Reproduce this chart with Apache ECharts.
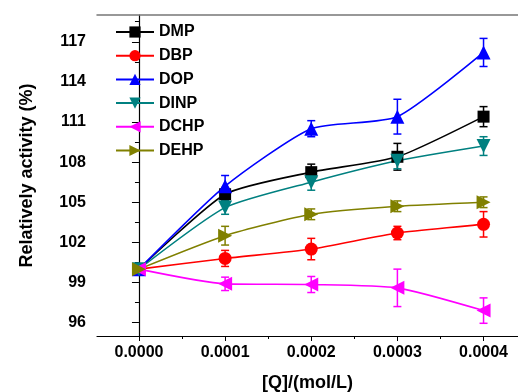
<!DOCTYPE html>
<html><head><meta charset="utf-8">
<script src="https://cdn.jsdelivr.net/npm/echarts@6/dist/echarts.min.js"></script>
<style>html,body{margin:0;padding:0;background:#fff}#c{width:518px;height:392px}</style>
</head><body><div id="c"></div>
<script>
const xValues = [0, 0.0001, 0.0002, 0.0003, 0.0004];
const seriesNames = ['DMP','DBP','DOP','DINP','DCHP','DEHP'];
const DMP  = [100, 105.6, 107.25, 108.4, 111.4];
const DBP  = [100, 100.8, 101.5, 102.7, 103.35];
const DOP  = [100, 106.2, 110.5, 111.4, 116.2];
const DINP = [100, 104.6, 106.5, 108.1, 109.2];
const DCHP = [100, 98.9, 98.85, 98.6, 96.9];
const DEHP = [100, 102.5, 104.1, 104.7, 105.0];
const DMP_err  = [0.2, 0.5, 0.6, 1.0, 0.75];
const DBP_err  = [0.2, 0.6, 0.8, 0.5, 0.95];
const DOP_err  = [0.2, 0.8, 0.6, 1.3, 1.05];
const DINP_err = [0.2, 0.5, 0.6, 0.6, 0.7];
const DCHP_err = [0.2, 0.5, 0.6, 1.4, 0.95];
const DEHP_err = [0.2, 0.7, 0.4, 0.4, 0.4];
const yTickLabels = [96, 99, 102, 105, 108, 111, 114, 117];
const yMinorTicks = [97.5, 100.5, 103.5, 106.5, 109.5, 112.5, 115.5, 118.5];
const xTickLabels = [0, 0.0001, 0.0002, 0.0003, 0.0004];
const xMinorTicks = [0.00005, 0.00015, 0.00025, 0.00035];

const values = {DMP, DBP, DOP, DINP, DCHP, DEHP};
const errs = {DMP: DMP_err, DBP: DBP_err, DOP: DOP_err, DINP: DINP_err, DCHP: DCHP_err, DEHP: DEHP_err};
const colors = {DMP:'#000000', DBP:'#ff0000', DOP:'#0000ff', DINP:'#008080', DCHP:'#ff00ff', DEHP:'#808000'};
const symbols = {DMP:['rect',0,12], DBP:['circle',0,13], DOP:['triangle',0,14], DINP:['triangle',180,14], DCHP:['triangle',90,14], DEHP:['triangle',-90,14]};

const font = 'Liberation Sans, Arial, sans-serif';
const series = [];
seriesNames.forEach(n => {
  series.push({
    type: 'custom', name: n + '_err', xAxisIndex: 0, yAxisIndex: 0, z: 2, silent: true,
    data: xValues.map((x, i) => [x, values[n][i], errs[n][i]]),
    renderItem: function (params, api) {
      const x = api.value(0), y = api.value(1), e = api.value(2);
      const top = api.coord([x, y + e]), bot = api.coord([x, y - e]);
      const w = 4;
      const st = {stroke: colors[n], lineWidth: 1.5, fill: null};
      return {type: 'group', children: [
        {type: 'line', shape: {x1: top[0], y1: top[1], x2: bot[0], y2: bot[1]}, style: st},
        {type: 'line', shape: {x1: top[0]-w, y1: top[1], x2: top[0]+w, y2: top[1]}, style: st},
        {type: 'line', shape: {x1: bot[0]-w, y1: bot[1], x2: bot[0]+w, y2: bot[1]}, style: st}
      ]};
    }
  });
});
seriesNames.forEach(n => {
  series.push({
    type: 'line', name: n, xAxisIndex: 0, yAxisIndex: 0, z: 3,
    data: xValues.map((x, i) => [x, values[n][i]]),
    smooth: 0.2,
    symbol: symbols[n][0], symbolRotate: symbols[n][1], symbolSize: symbols[n][2],
    lineStyle: {color: colors[n], width: 1.6},
    itemStyle: {color: colors[n], borderWidth: 0},
    emphasis: {disabled: true}
  });
});

const xMin = -0.0000487, xMax = 0.00044;
const chart = echarts.init(document.getElementById('c'), null, {renderer: 'canvas'});
chart.setOption({
  animation: false,
  backgroundColor: '#fff',
  grid: {left: 97, top: 15, bottom: 56, right: 0, show: false, outerBoundsMode: 'none', containLabel: false},
  legend: {
    data: seriesNames, orient: 'vertical', left: 110, top: 19,
    itemWidth: 38, itemHeight: 14, itemGap: 7.7,
    textStyle: {fontFamily: font, fontWeight: 'bold', fontSize: 16, color: '#000'}
  },
  xAxis: [{
    type: 'value', min: xMin, max: xMax, position: 'bottom',
    name: '[Q]/(mol/L)', nameLocation: 'middle', nameGap: 38,
    nameTextStyle: {fontFamily: font, fontWeight: 'bold', fontSize: 18, color: '#000'},
    axisLine: {lineStyle: {color: '#000', width: 1.2}},
    axisTick: {customValues: xTickLabels, length: 5, lineStyle: {color: '#000'}},
    axisLabel: {customValues: xTickLabels, formatter: v => v.toFixed(4), margin: 9,
      fontFamily: font, fontWeight: 'bold', fontSize: 16, color: '#000'},
    splitLine: {show: false}
  }, {
    type: 'value', min: xMin, max: xMax, position: 'bottom',
    axisLine: {show: false},
    axisTick: {customValues: xMinorTicks, length: 3, lineStyle: {color: '#000'}},
    axisLabel: {show: false}, splitLine: {show: false}
  }, {
    type: 'value', min: xMin, max: xMax, position: 'top',
    axisLine: {lineStyle: {color: '#777', width: 1.5}},
    axisTick: {show: false}, axisLabel: {show: false}, splitLine: {show: false}
  }],
  yAxis: [{
    type: 'value', min: 95, max: 119, position: 'left',
    name: 'Relatively activity (%)', nameLocation: 'middle', nameGap: 61,
    nameTextStyle: {fontFamily: font, fontWeight: 'bold', fontSize: 18, color: '#000'},
    axisLine: {lineStyle: {color: '#000', width: 1.2}},
    axisTick: {customValues: yTickLabels, length: 7, lineStyle: {color: '#000'}},
    axisLabel: {customValues: yTickLabels, margin: 11,
      fontFamily: font, fontWeight: 'bold', fontSize: 16, color: '#000'},
    splitLine: {show: false}
  }, {
    type: 'value', min: 95, max: 119, position: 'left',
    axisLine: {show: false},
    axisTick: {customValues: yMinorTicks, length: 4, lineStyle: {color: '#000'}},
    axisLabel: {show: false}, splitLine: {show: false}
  }],
  series: series
});
</script></body></html>
